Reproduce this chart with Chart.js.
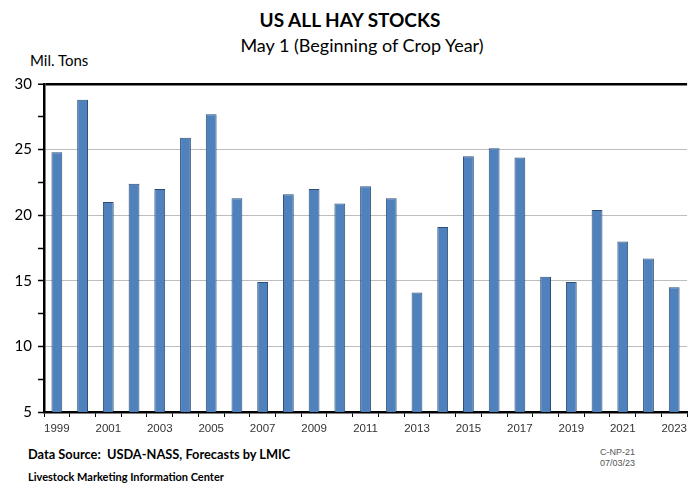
<!DOCTYPE html>
<html>
<head>
<meta charset="utf-8">
<script src="https://cdn.jsdelivr.net/npm/chart.js@4.4.0/dist/chart.umd.min.js"></script>
<style>
  html, body { margin: 0; padding: 0; background: #fff; overflow: hidden; }
  body { width: 690px; height: 483px; position: relative; font-family: Lato, "Open Sans", sans-serif; }
  .txt { position: absolute; white-space: nowrap; }
  #title { left: 0; width: 700px; text-align: center; top: 8px; font-size: 19px; font-weight: bold; color: #000; }
  #subtitle { left: 0; width: 724px; text-align: center; top: 34px; font-size: 18px; color: #000; }
  #unit { left: 30px; top: 51px; font-size: 15px; color: #000; }
  #source { left: 28px; top: 446px; font-size: 12.8px; font-weight: bold; color: #000; }
  #center { left: 28px; top: 470px; font-size: 11px; font-weight: bold; color: #000; }
  #code { left: 600px; top: 447px; font-size: 9px; line-height: 11px; color: #555; font-family: "Liberation Sans", Arial, sans-serif; }
  #wrap { position: absolute; left: 0; top: 0; width: 692px; height: 440px; }
</style>
</head>
<body>
<div class="txt" id="title">US ALL HAY STOCKS</div>
<div class="txt" id="subtitle">May 1 (Beginning of Crop Year)</div>
<div class="txt" id="unit">Mil. Tons</div>
<div id="wrap"><canvas id="hayChart"></canvas></div>
<div class="txt" id="source">Data Source:&nbsp; USDA-NASS, Forecasts by LMIC</div>
<div class="txt" id="center">Livestock Marketing Information Center</div>
<div class="txt" id="code">C-NP-21<br>07/03/23</div>

<script>
// data (million tons, May 1 stocks)
const years = ['1999','2000','2001','2002','2003','2004','2005','2006','2007','2008','2009','2010',
  '2011','2012','2013','2014','2015','2016','2017','2018','2019','2020','2021','2022','2023'];
const stocks = [24.8, 28.8, 21.0, 22.4, 22.0, 25.9, 27.7, 21.3, 14.9, 21.6, 22.0, 20.9,
  22.2, 21.3, 14.1, 19.1, 24.5, 25.1, 24.4, 15.3, 14.9, 20.4, 18.0, 16.7, 14.5];
const yTicks = [5, 10, 15, 20, 25, 30];

const ctx = document.getElementById('hayChart').getContext('2d');
new Chart(ctx, {
  type: 'bar',
  data: {
    labels: years,
    datasets: [{
      data: stocks,
      backgroundColor: '#4f81bd',
      borderColor: '#2c4d75',
      borderWidth: 1,
      barPercentage: 0.42,
      categoryPercentage: 1
    }]
  },
  options: {
    responsive: true,
    maintainAspectRatio: false,
    animation: false,
    layout: { padding: { top: 84, left: 0, right: 0, bottom: 0 } },
    plugins: { legend: { display: false }, tooltip: { enabled: false } },
    scales: {
      x: {
        offset: true,
        afterFit: s => { s.height = 28; },
        border: { color: '#000', width: 2.5 },
        grid: { offset: true, drawOnChartArea: false, drawTicks: true, tickLength: 5, tickColor: '#000', lineWidth: 1 },
        ticks: {
          autoSkip: false, maxRotation: 0, padding: 5,
          color: '#333',
          font: { family: '"Liberation Sans", Arial, sans-serif', size: 11.5 },
          callback: (v, i) => (i % 2 === 0 ? years[i] : '')
        }
      },
      y: {
        min: 5, max: 30,
        afterFit: s => { s.width = 44; },
        afterBuildTicks: s => {
          const t = [];
          for (let v = 5; v <= 30; v += 2.5) t.push({ value: v });
          s.ticks = t;
        },
        border: { color: '#000', width: 2.5 },
        grid: {
          drawTicks: true, tickLength: 6,
          tickColor: '#000',
          tickWidth: 1.5,
          color: c => {
            const v = c.tick ? c.tick.value : 0;
            if (v === 30) return '#000';
            if (yTicks.includes(v) && v !== 5) return '#bdbdbd';
            return 'rgba(0,0,0,0)';
          },
          lineWidth: c => (c.tick && c.tick.value === 30 ? 2.5 : 1)
        },
        ticks: {
          autoSkip: false,
          padding: 6,
          color: '#000',
          font: { family: 'Lato, "Open Sans", sans-serif', size: 15 },
          callback: v => (yTicks.includes(v) ? String(v) : '')
        }
      }
    }
  }
});
</script>
</body>
</html>
